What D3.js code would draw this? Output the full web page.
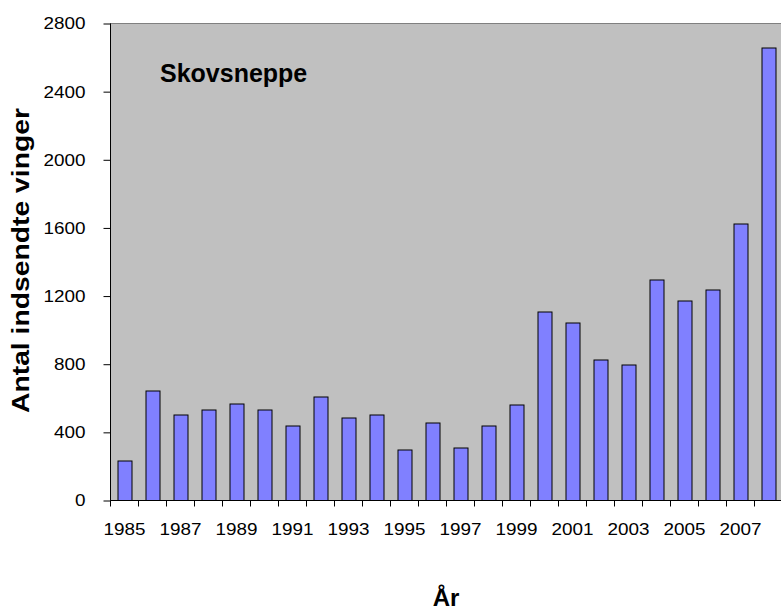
<!DOCTYPE html>
<html>
<head>
<meta charset="utf-8">
<script src="https://cdn.jsdelivr.net/npm/d3@7"></script>
<style>
  body { margin: 0; background: #fff; }
  svg { display: block; }
</style>
</head>
<body>
<svg id="svg"></svg>
<script>
// data
const years = [1985, 1986, 1987, 1988, 1989, 1990, 1991, 1992, 1993, 1994, 1995, 1996,
               1997, 1998, 1999, 2000, 2001, 2002, 2003, 2004, 2005, 2006, 2007, 2008];
const wings = [232, 645, 505, 535, 570, 535, 440, 610, 488, 505, 300, 460,
               310, 440, 565, 1110, 1042, 826, 798, 1295, 1175, 1240, 1625, 2660];
const yTicks = [0, 400, 800, 1200, 1600, 2000, 2400, 2800];
const xLabels = [1985, 1987, 1989, 1991, 1993, 1995, 1997, 1999, 2001, 2003, 2005, 2007];

const data = years.map((y, i) => ({ year: y, value: wings[i] }));

const margin = { top: 23.5, left: 110.5 };
const width = 672;
const height = 477;
const font = 'Liberation Sans, Arial, sans-serif';

// SCALES
const xScale = d3.scaleBand()
  .domain(years)
  .range([0, width])
  .paddingInner(0.5)
  .paddingOuter(0.25);

const yScale = d3.scaleLinear()
  .domain([0, 2800])
  .range([height, 0]);

const svg = d3.select('#svg')
  .attr('width', 781)
  .attr('height', 612);

const plot = svg.append('g')
  .attr('transform', `translate(${margin.left}, ${margin.top})`);

// plot background + grey border
plot.append('rect')
  .attr('x', 0)
  .attr('y', 0)
  .attr('width', width)
  .attr('height', height)
  .attr('fill', '#c0c0c0')
  .attr('stroke', '#808080')
  .attr('stroke-width', 1);

// BARS
plot.selectAll('.bar')
  .data(data)
  .enter()
  .append('rect')
  .attr('class', 'bar')
  .attr('x', d => Math.round(xScale(d.year)) + 0.5)
  .attr('y', d => Math.round(yScale(d.value)) + 0.5)
  .attr('width', Math.round(xScale.bandwidth()))
  .attr('height', d => height - Math.round(yScale(d.value)) - 0.5)
  .attr('fill', '#8080ff')
  .attr('stroke', '#000')
  .attr('stroke-width', 1);

// Y AXIS
const yAxis = plot.append('g')
  .call(d3.axisLeft(yScale).tickValues(yTicks).tickSize(7).tickPadding(18).tickFormat(d3.format('d')));
yAxis.select('.domain').attr('stroke', '#000').attr('d', `M0,0V${height}`);
yAxis.selectAll('text')
  .attr('font-family', font)
  .attr('font-size', '17px')
  .attr('fill', '#000')
  .attr('textLength', d => String(d).length * 10.5)
  .attr('lengthAdjust', 'spacingAndGlyphs');

// X AXIS (labels every other year, ticks between categories like excel)
const xAxis = plot.append('g')
  .attr('transform', `translate(0, ${height})`)
  .call(d3.axisBottom(xScale).tickValues(xLabels).tickSize(0).tickPadding(22));
xAxis.select('.domain').attr('stroke', '#000').attr('d', `M0,0H${width}`);
xAxis.selectAll('text')
  .attr('font-family', font)
  .attr('font-size', '17px')
  .attr('fill', '#000')
  .attr('textLength', 42)
  .attr('lengthAdjust', 'spacingAndGlyphs');

const gap = (xScale.step() - xScale.bandwidth()) / 2;
xAxis.selectAll('.sep')
  .data(years)
  .enter()
  .append('line')
  .attr('class', 'sep')
  .attr('x1', d => Math.round(xScale(d) - gap))
  .attr('x2', d => Math.round(xScale(d) - gap))
  .attr('y1', 0)
  .attr('y2', 6)
  .attr('stroke', '#000');

// TITLE inside plot
svg.append('text')
  .attr('x', 160)
  .attr('y', 82)
  .attr('font-family', font)
  .attr('font-weight', 'bold')
  .attr('font-size', '25px')
  .text('Skovsneppe');

// Y AXIS LABEL
svg.append('text')
  .attr('transform', 'translate(29, 260.5) rotate(-90)')
  .attr('text-anchor', 'middle')
  .attr('font-family', font)
  .attr('font-weight', 'bold')
  .attr('font-size', '23px')
  .attr('textLength', 305)
  .attr('lengthAdjust', 'spacingAndGlyphs')
  .text('Antal indsendte vinger');

// X AXIS LABEL
svg.append('text')
  .attr('x', 446)
  .attr('y', 606)
  .attr('text-anchor', 'middle')
  .attr('font-family', font)
  .attr('font-weight', 'bold')
  .attr('font-size', '24px')
  .text('År');
</script>
</body>
</html>
